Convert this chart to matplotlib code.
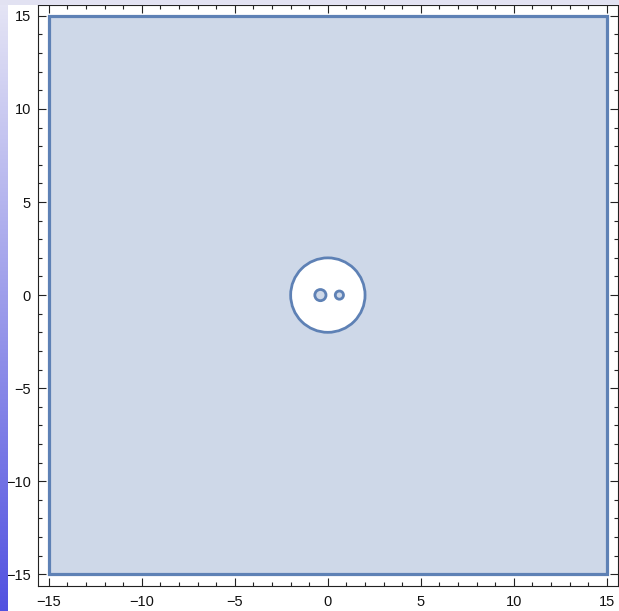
import numpy as np
import matplotlib
matplotlib.use("Agg")
import matplotlib.pyplot as plt
from matplotlib.path import Path
from matplotlib.patches import PathPatch, Circle
from matplotlib.ticker import MultipleLocator

# Region definition: square with a circular hole, two small islands inside the hole
half_side = 15.0
hole_center = (0.0, 0.0)
hole_radius = 2.0
island_x = [-0.4, 0.62]
island_y = [0.0, 0.0]
island_r = [0.30, 0.22]

x_ticks = [-15, -10, -5, 0, 5, 10, 15]
y_ticks = [-15, -10, -5, 0, 5, 10, 15]

edge_color = "#5e81b5"

plt.rcParams["font.family"] = ["Liberation Sans", "DejaVu Sans"]

fig = plt.figure(figsize=(6.19, 6.11), dpi=100)
fig.patch.set_facecolor("white")

# decorative window edges: gradient strip on the left, tinted strip on top
W, H = 619, 611
strip_w = 8
t = np.linspace(0, 1, H)[:, None]
top_c = np.array([0.90, 0.90, 0.96])
bot_c = np.array([0.32, 0.32, 0.88])
grad = (1 - t)[..., None] * top_c + t[..., None] * bot_c
grad = np.repeat(grad, strip_w, axis=1)
fig.figimage(grad, xo=0, yo=0, origin="upper", zorder=0)
top_strip = np.ones((5, W, 3)) * np.array([0.89, 0.89, 0.95])
fig.figimage(top_strip, xo=0, yo=H - 5, origin="upper", zorder=0)

ax = fig.add_axes([37.7 / W, (H - 585.5) / H, (618 - 37.7) / W, (585.5 - 4.7) / H])
ax.set_facecolor("white")

def circle_verts(cx, cy, r, reverse=False):
    c = Path.circle((cx, cy), r)
    v = c.vertices.copy()
    if reverse:
        v = v[::-1]
    return v, c.codes.copy()

# Outer square (counter-clockwise)
sq = np.array([[-half_side, -half_side], [half_side, -half_side],
               [half_side, half_side], [-half_side, half_side],
               [-half_side, -half_side]])
sq_codes = [Path.MOVETO, Path.LINETO, Path.LINETO, Path.LINETO, Path.CLOSEPOLY]

verts = [sq]
codes = [np.array(sq_codes)]

hv, hc = circle_verts(hole_center[0], hole_center[1], hole_radius, reverse=True)
verts.append(hv)
codes.append(hc)
for cx, cy, r in zip(island_x, island_y, island_r):
    v, c = circle_verts(cx, cy, r)
    verts.append(v)
    codes.append(c)

region = Path(np.concatenate(verts), np.concatenate(codes))
ax.add_patch(PathPatch(region, facecolor=edge_color, alpha=0.3, edgecolor="none", zorder=1))

# Boundaries
ax.add_patch(PathPatch(Path(sq, sq_codes), facecolor="none", edgecolor=edge_color, lw=2.3, zorder=2))
ax.add_patch(Circle(hole_center, hole_radius, facecolor="none", edgecolor=edge_color, lw=2.0, zorder=2))
for cx, cy, r in zip(island_x, island_y, island_r):
    ax.add_patch(Circle((cx, cy), r, facecolor="none", edgecolor=edge_color, lw=2.0, zorder=2))

pad = 0.6
ax.set_xlim(-half_side - pad, half_side + pad)
ax.set_ylim(-half_side - pad, half_side + pad)
ax.set_aspect("auto")

ax.set_xticks(x_ticks)
ax.set_yticks(y_ticks)
ax.set_xticklabels([str(v).replace("-", "\u2212") for v in x_ticks])
ax.set_yticklabels([str(v).replace("-", "\u2212") for v in y_ticks])
ax.xaxis.set_minor_locator(MultipleLocator(1))
ax.yaxis.set_minor_locator(MultipleLocator(1))
ax.tick_params(which="both", direction="in", top=True, right=True, color="#222222", width=0.8)
ax.tick_params(which="major", length=5.5, labelsize=10.5, labelcolor="#111111")
ax.tick_params(axis="x", which="major", pad=7)
ax.tick_params(axis="y", which="major", pad=5)
ax.tick_params(which="minor", length=3)
for s in ax.spines.values():
    s.set_linewidth(0.8)
    s.set_color("#222222")

fig.savefig("out.png", dpi=100)
